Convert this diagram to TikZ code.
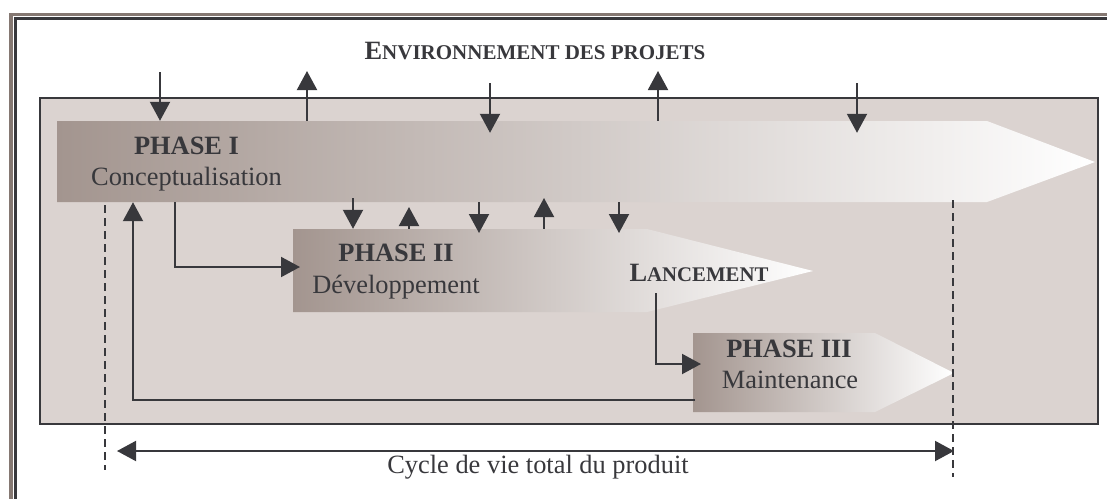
\documentclass[tikz,border=0pt]{standalone}
\usepackage{fontspec}
\setmainfont{Liberation Serif}
\usetikzlibrary{arrows.meta,calc}
\definecolor{ink}{HTML}{38383C}
\definecolor{boxfill}{HTML}{DBD3D0}
\definecolor{phasedark}{HTML}{A3958F}
\definecolor{framelight}{HTML}{857872}
\tikzset{
  arr/.style={draw=ink, line width=2pt, -{Triangle[width=20pt,length=19pt]}},
  biarr/.style={draw=ink, line width=2pt, {Triangle[width=20pt,length=19pt]}-{Triangle[width=20pt,length=19pt]}},
  dashline/.style={draw=ink, line width=1.6pt, dash pattern=on 8pt off 5pt},
  lbl/.style={text=ink, font=\fontsize{26.4}{30}\selectfont, inner sep=0pt, anchor=base},
  blbl/.style={lbl, font=\fontsize{26.4}{30}\selectfont\bfseries},
  phasebox/.style={inner sep=0pt, draw=none, fill=none}
}
\begin{document}
\begin{tikzpicture}[x=1pt,y=-1pt]
\useasboundingbox (0,0) rectangle (1107,498);
\clip (0,0) rectangle (1107,498);
% outer frame
\draw[framelight, line width=3.5pt] (11,14.5) rectangle (1140,530);
\draw[ink, line width=3pt] (15,18.5) rectangle (1140,530);
% inner box
\draw[ink, fill=boxfill, line width=2pt] (40,98) rectangle (1098,424);
% phase shapes
\shade[left color=phasedark, right color=white, shading angle=90]
  (57,121) -- (987,121) -- (1095,162) -- (987,202) -- (57,202) -- cycle;
\shade[left color=phasedark, middle color=phasedark!55!white, right color=white]
  (293,229) -- (647,229) -- (813,271) -- (647,312) -- (293,312) -- cycle;
\shade[left color=phasedark, right color=white]
  (693,333) -- (875,333) -- (954,373) -- (875,412) -- (693,412) -- cycle;
\node[phasebox, minimum width=930pt, minimum height=81pt] (ph1) at (522,161.5) {};
\node[phasebox, minimum width=354pt, minimum height=83pt] (ph2) at (470,270.5) {};
\node[phasebox, minimum width=182pt, minimum height=79pt] (ph3) at (784,372.5) {};
% texts
\node[blbl] (title) at (535,59) {E{\fontsize{21}{24}\selectfont NVIRONNEMENT DES PROJETS}};
\node[blbl] (t1) at (186.5,154) {PHASE I};
\node[lbl] (s1) at (186.5,185) {Conceptualisation};
\node[blbl] (t2) at (396,261) {PHASE II};
\node[lbl] (s2) at (396,293) {Développement};
\node[blbl] (t3) at (789,357) {PHASE III};
\node[lbl] (s3) at (790,388) {Maintenance};
\node[blbl] (lanc) at (699,281) {L{\fontsize{20.8}{24}\selectfont ANCEMENT}};
\node[lbl] (cycle) at (538,473) {Cycle de vie total du produit};
% environment arrows
\coordinate (e1) at (160,72);
\coordinate (e2) at (307,71);
\coordinate (e3) at (490,83);
\coordinate (e4) at (658,71);
\coordinate (e5) at (857,83);
\draw[arr] (e1) -- (e1 |- ph1.north);
\draw[arr] (e2 |- ph1.north) -- (e2);
\draw[arr] (e3) -- ($(e3 |- ph1.north)+(0,12)$);
\draw[arr] (e4 |- ph1.north) -- (e4);
\draw[arr] (e5) -- ($(e5 |- ph1.north)+(0,12)$);
% arrows between phase I and phase II
\coordinate (m1) at (353,198);
\coordinate (m2) at (409,207);
\coordinate (m3) at (479,233);
\coordinate (m4) at (544,198);
\coordinate (m5) at (619,233);
\draw[arr] (m1) -- (m1 |- ph2.north);
\draw[arr] (m2 |- ph2.north) -- (m2);
\draw[arr] (m3 |- ph1.south) -- (m3);
\draw[arr] (m4 |- ph2.north) -- (m4);
\draw[arr] (m5 |- ph1.south) -- (m5);
% phase I -> phase II
\coordinate (k1) at (175,267);
\coordinate (k2) at (300,267);
\draw[arr] (k1 |- ph1.south) -- (k1) -- (k2);
% lancement -> phase III
\coordinate (l0) at (656,293);
\coordinate (l1) at (656,364);
\coordinate (l2) at (701,364);
\draw[arr] (l0) -- (l1) -- (l2);
% feedback phase III -> phase I
\coordinate (f1) at (695,400);
\coordinate (f2) at (133,400);
\draw[arr] (f1) -- (f2) -- (f2 |- ph1.south);
% dashed limits
\coordinate (dl1) at (105,205);
\coordinate (dl2) at (105,470);
\coordinate (dr1) at (953,200);
\coordinate (dr2) at (953,477);
\draw[dashline] (dl1) -- (dl2);
\draw[dashline] (dr1) -- (dr2);
% cycle arrow
\coordinate (c1) at (117,451);
\coordinate (c2) at (954,451);
\draw[biarr] (c1) -- (c2);
\end{tikzpicture}
\end{document}
